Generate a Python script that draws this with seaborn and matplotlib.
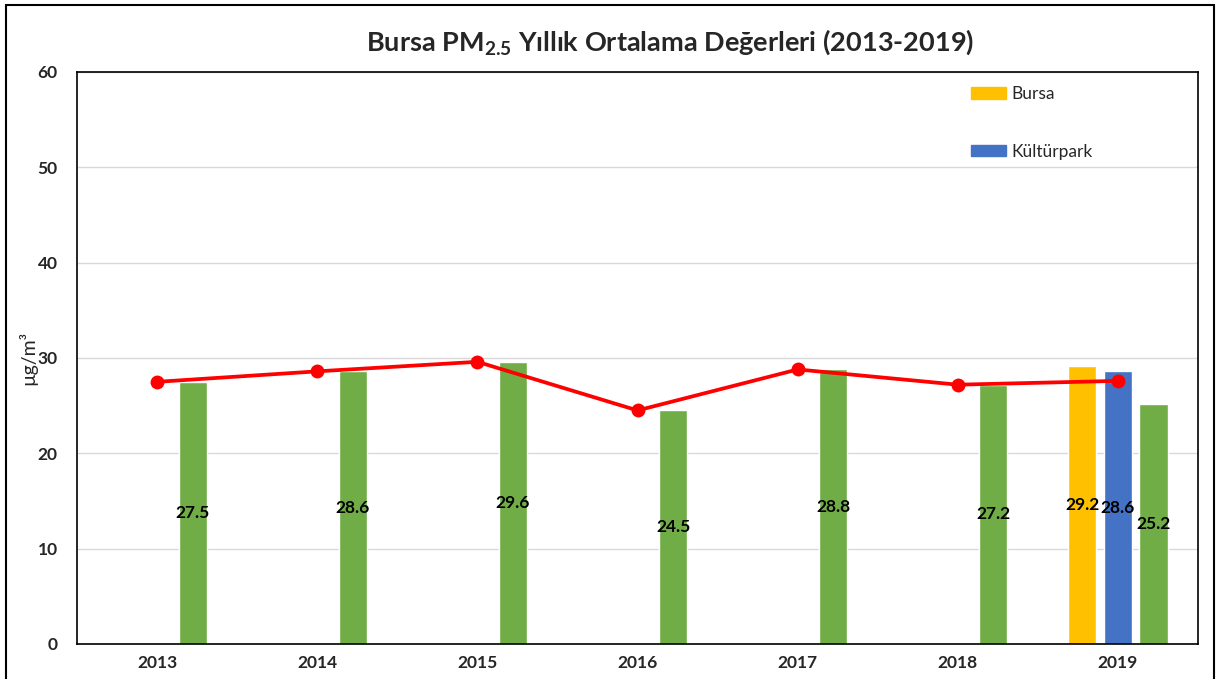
import numpy as np
import pandas as pd
import matplotlib
matplotlib.use("Agg")
import matplotlib.pyplot as plt
from matplotlib.patches import Rectangle
import seaborn as sns

# Annual PM2.5 means (µg/m³)
years = ["2013", "2014", "2015", "2016", "2017", "2018", "2019"]
series_names = ["Bursa", "Kültürpark", "Ölçüm"]
bursa_vals = [np.nan, np.nan, np.nan, np.nan, np.nan, np.nan, 29.2]
kulturpark_vals = [np.nan, np.nan, np.nan, np.nan, np.nan, np.nan, 28.6]
station_vals = [27.5, 28.6, 29.6, 24.5, 28.8, 27.2, 25.2]
mean_line = [27.5, 28.6, 29.6, 24.5, 28.8, 27.2, 27.6]

colors = {"Bursa": "#FFC000", "Kültürpark": "#4472C4", "Ölçüm": "#70AD47"}

sns.set_theme(style="white")
plt.rcParams["font.family"] = ["Lato", "DejaVu Sans"]
plt.rcParams["mathtext.fontset"] = "custom"
plt.rcParams["mathtext.rm"] = "Lato:bold"
plt.rcParams["mathtext.it"] = "Lato:bold"
plt.rcParams["mathtext.bf"] = "Lato:bold"

df = pd.DataFrame({
    "Yıl": years * 3,
    "Seri": [s for s in series_names for _ in years],
    "Değer": bursa_vals + kulturpark_vals + station_vals,
})

fig = plt.figure(figsize=(12.17, 6.79), dpi=100)
ax = fig.add_axes([77 / 1217, 1 - 644 / 679, (1198 - 77) / 1217, (644 - 72) / 679])

sns.barplot(data=df, x="Yıl", y="Değer", hue="Seri", order=years,
            hue_order=series_names, palette=colors, width=0.666, gap=0.21,
            errorbar=None, legend=False, ax=ax, saturation=1)

# Value labels in the middle of each bar
for cont in ax.containers:
    vals = [p.get_height() for p in cont]
    ax.bar_label(cont, labels=[f"{v:.1f}" for v in vals], label_type="center",
                 fontsize=12.5, fontweight="bold", color="black")

# Yearly mean line at the category centres
sns.lineplot(x=np.arange(len(years)), y=mean_line, color="#FF0000",
             linewidth=2.7, marker="o", markersize=10, markeredgewidth=0,
             ax=ax, legend=False)

ax.set_xlim(-0.5, len(years) - 0.5)
ax.set_ylim(0, 60)
ax.set_yticks(range(0, 61, 10))
ax.yaxis.grid(True, color="#D9D9D9", linewidth=1)
ax.set_axisbelow(True)
for sp in ax.spines.values():
    sp.set_visible(True)
    sp.set_color("black")
    sp.set_linewidth(1.2)
ax.tick_params(axis="both", length=0, labelsize=12.5)
ax.tick_params(axis="y", pad=14)
ax.tick_params(axis="x", pad=8)
for lbl in ax.get_xticklabels() + ax.get_yticklabels():
    lbl.set_fontweight("bold")
ax.set_xlabel("")
ax.set_ylabel("µg/m³", fontsize=14, labelpad=0)

fig.text(670 / 1217, 1 - 42 / 679,
         r"Bursa PM$_{\mathrm{2.5}}$ Yıllık Ortalama Değerleri (2013-2019)",
         ha="center", va="center", fontsize=19.5, fontweight="bold")

handles = [Rectangle((0, 0), 1, 1, color=colors["Bursa"]),
           Rectangle((0, 0), 1, 1, color=colors["Kültürpark"])]
fig.legend(handles, ["Bursa", "Kültürpark"], loc="upper left",
           bbox_to_anchor=(971 / 1217, 1 - 86 / 679), frameon=False,
           fontsize=12.5, handlelength=2.0, handleheight=0.65,
           handletextpad=0.3, labelspacing=2.4, borderpad=0, borderaxespad=0)

# Outer chart frame
fig.patches.append(Rectangle((6 / 1217, -0.05), (1214 - 6) / 1217, 1.05 - 5 / 679,
                             transform=fig.transFigure, fill=False,
                             edgecolor="black", linewidth=1.5))

fig.savefig("out.png", dpi=100)
